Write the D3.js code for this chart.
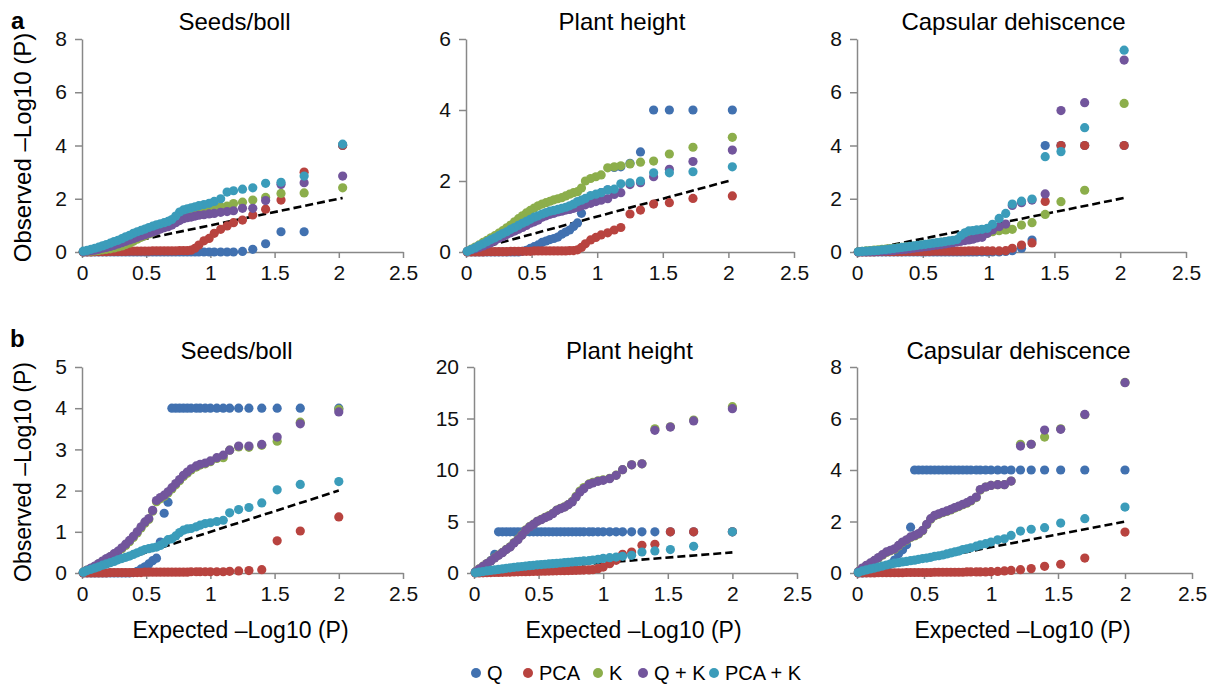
<!DOCTYPE html>
<html>
<head>
<meta charset="utf-8">
<script src="https://cdnjs.cloudflare.com/ajax/libs/d3/7.8.5/d3.min.js"></script>
<style>
  body { margin: 0; background: #fff; }
  svg { font-family: "Liberation Sans", Arial, sans-serif; }
  .axis path, .axis line { stroke: #888; stroke-width: 1.5; }
  .axis text { fill: #111; font-size: 21px; }
</style>
</head>
<body>
<div id="chart"></div>
<script>
// expected -log10(P) positions (row a ~107 markers, row b ~100 markers)
var expectedA = [2.03, 1.73, 1.55, 1.43, 1.33, 1.25, 1.18, 1.13,
  1.08, 1.03, 0.99, 0.95, 0.91, 0.88, 0.85, 0.82, 0.79, 0.76, 0.73, 0.70,
  0.67, 0.64, 0.61, 0.58, 0.55, 0.52, 0.49, 0.46, 0.43, 0.40, 0.37, 0.34, 0.31, 0.28, 0.25, 0.22, 0.19, 0.16, 0.13, 0.10, 0.07, 0.04, 0.01];
var expectedB = [2.00, 1.70, 1.52, 1.40, 1.30, 1.22, 1.15, 1.10,
  1.05, 1.00, 0.96, 0.92, 0.89, 0.85, 0.82, 0.79, 0.76, 0.73, 0.70,
  0.67, 0.64, 0.61, 0.58, 0.55, 0.52, 0.49, 0.46, 0.43, 0.40, 0.37, 0.34, 0.31, 0.28, 0.25, 0.22, 0.19, 0.16, 0.13, 0.10, 0.07, 0.04, 0.01];

var seriesNames = ["Q", "PCA", "K", "Q + K", "PCA + K"];
var seriesColors = ["#4171b0", "#b8433f", "#8cae4b", "#72559c", "#3b9cba"];
var panelTitles = ["Seeds/boll", "Plant height", "Capsular dehiscence"];
var yMaxA = [8, 6, 8], yStepA = [2, 2, 2];
var yMaxB = [5, 20, 8], yStepB = [1, 5, 2];
var xTicks = [0, 0.5, 1, 1.5, 2, 2.5];

// ---- row a: Seeds/boll
var a1Q = [4.0, 0.76, 0.76, 0.31, 0.1, 0.02, 0, 0,
  0, 0, 0, 0, 0, 0, 0, 0, 0, 0, 0, 0,
  0, 0, 0, 0, 0, 0, 0, 0, 0, 0, 0, 0, 0, 0, 0, 0, 0, 0, 0, 0, 0, 0, 0];
var a1PCA = [4.0, 3.0, 1.95, 1.61, 1.39, 1.2, 1.1, 0.98,
  0.85, 0.7, 0.51, 0.42, 0.26, 0.14, 0.07, 0.05, 0.05, 0.05, 0.04, 0.04,
  0.04, 0.04, 0.04, 0.04, 0.04, 0.03, 0.03, 0.03, 0.03, 0.03, 0.03, 0.02, 0.02, 0.02, 0.02, 0.02, 0.01, 0.01, 0.01, 0.01, 0, 0, 0];
var a1K = [2.41, 2.22, 2.2, 2.05, 1.95, 1.87, 1.82, 1.72,
  1.7, 1.67, 1.63, 1.6, 1.57, 1.53, 1.5, 1.47, 1.42, 1.35, 1.2, 1.1,
  1.0, 0.95, 0.88, 0.8, 0.74, 0.68, 0.61, 0.55, 0.48, 0.4, 0.33, 0.28, 0.23, 0.19, 0.15, 0.12, 0.1, 0.08, 0.06, 0.04, 0.03, 0.02, 0.01];
var a1QK = [2.85, 2.6, 2.54, 1.93, 1.64, 1.64, 1.55, 1.52,
  1.49, 1.45, 1.43, 1.4, 1.38, 1.35, 1.31, 1.29, 1.25, 1.18, 1.1, 1.01,
  0.95, 0.91, 0.86, 0.8, 0.75, 0.7, 0.65, 0.6, 0.55, 0.5, 0.45, 0.4, 0.35, 0.3, 0.25, 0.21, 0.17, 0.14, 0.1, 0.07, 0.05, 0.03, 0.01];
var a1PCAK = [4.05, 2.85, 2.62, 2.58, 2.41, 2.36, 2.3, 2.25,
  2.0, 1.9, 1.83, 1.78, 1.74, 1.7, 1.66, 1.62, 1.58, 1.5, 1.35, 1.22,
  1.15, 1.1, 1.06, 1.02, 0.97, 0.92, 0.86, 0.81, 0.76, 0.7, 0.63, 0.57, 0.5, 0.44, 0.39, 0.33, 0.28, 0.23, 0.18, 0.14, 0.1, 0.06, 0.03];

// ---- row a: Plant height
var a2Q = [4, 4, 4, 4, 2.82, 2.5, 2.4, 2.38,
  1.75, 1.67, 1.6, 1.55, 1.45, 1.09, 0.82, 0.72, 0.62, 0.56, 0.5, 0.42,
  0.38, 0.35, 0.31, 0.27, 0.2, 0.15, 0.1, 0.05, 0.02, 0, 0, 0, 0, 0, 0, 0, 0, 0, 0, 0, 0, 0, 0];
var a2PCA = [1.58, 1.51, 1.39, 1.35, 1.18, 1.07, 0.69, 0.62,
  0.54, 0.48, 0.41, 0.34, 0.23, 0.13, 0.06, 0.04, 0.04, 0.03, 0.03, 0.03,
  0.03, 0.03, 0.03, 0.03, 0.03, 0.03, 0.02, 0.02, 0.02, 0.02, 0.02, 0.02, 0.01, 0.01, 0.01, 0.01, 0.01, 0.01, 0, 0, 0, 0, 0];
var a2K = [3.23, 2.95, 2.76, 2.56, 2.53, 2.48, 2.43, 2.4,
  2.37, 2.17, 2.12, 2.07, 2.0, 1.8, 1.7, 1.67, 1.63, 1.58, 1.53, 1.5,
  1.47, 1.43, 1.39, 1.35, 1.3, 1.24, 1.17, 1.1, 1.02, 0.94, 0.85, 0.76, 0.68, 0.6, 0.53, 0.46, 0.4, 0.33, 0.27, 0.2, 0.14, 0.08, 0.02];
var a2QK = [2.87, 2.55, 2.33, 2.12, 1.95, 1.9, 1.67, 1.62,
  1.5, 1.46, 1.42, 1.37, 1.33, 1.3, 1.26, 1.23, 1.2, 1.18, 1.15, 1.13,
  1.09, 1.06, 1.02, 0.98, 0.9, 0.85, 0.81, 0.75, 0.69, 0.64, 0.59, 0.54, 0.49, 0.43, 0.38, 0.32, 0.26, 0.22, 0.17, 0.13, 0.09, 0.06, 0.02];
var a2PCAK = [2.4, 2.26, 2.23, 2.23, 2.0, 1.95, 1.92, 1.77,
  1.75, 1.67, 1.63, 1.59, 1.51, 1.46, 1.42, 1.35, 1.3, 1.26, 1.23, 1.2,
  1.17, 1.15, 1.11, 1.07, 1.02, 0.98, 0.92, 0.86, 0.81, 0.75, 0.69, 0.64, 0.57, 0.52, 0.46, 0.4, 0.35, 0.29, 0.23, 0.18, 0.12, 0.07, 0.02];

// ---- row a: Capsular dehiscence
var a3Q = [4, 4, 4, 4, 0.45, 0.14, 0.05, 0.02,
  0, 0, 0, 0, 0, 0, 0, 0, 0, 0, 0, 0,
  0, 0, 0, 0, 0, 0, 0, 0, 0, 0, 0, 0, 0, 0, 0, 0, 0, 0, 0, 0, 0, 0, 0];
var a3PCA = [4, 4, 4, 1.9, 0.34, 0.26, 0.14, 0.05,
  0.04, 0.04, 0.04, 0.04, 0.04, 0.04, 0.04, 0.03, 0.03, 0.03, 0.03, 0.03,
  0.03, 0.03, 0.03, 0.03, 0.02, 0.02, 0.02, 0.02, 0.02, 0.02, 0.02, 0.01, 0.01, 0.01, 0.01, 0.01, 0.01, 0.01, 0, 0, 0, 0, 0];
var a3K = [5.58, 2.32, 1.89, 1.41, 1.1, 1.01, 0.85, 0.83,
  0.8, 0.76, 0.7, 0.6, 0.58, 0.55, 0.52, 0.5, 0.47, 0.45, 0.42, 0.4,
  0.38, 0.36, 0.34, 0.32, 0.3, 0.28, 0.26, 0.24, 0.22, 0.2, 0.19, 0.17, 0.16, 0.14, 0.13, 0.11, 0.1, 0.08, 0.07, 0.05, 0.04, 0.02, 0.01];
var a3QK = [7.21, 5.61, 5.31, 2.18, 1.95, 1.85, 1.75, 1.05,
  0.95, 0.83, 0.7, 0.55, 0.53, 0.48, 0.45, 0.43, 0.4, 0.38, 0.35, 0.33,
  0.3, 0.28, 0.26, 0.24, 0.22, 0.2, 0.18, 0.16, 0.14, 0.12, 0.1, 0.09, 0.08, 0.06, 0.05, 0.04, 0.03, 0.03, 0.02, 0.02, 0.01, 0.01, 0];
var a3PCAK = [7.58, 4.67, 3.77, 3.58, 1.99, 1.91, 1.8, 1.45,
  1.26, 1.04, 0.89, 0.85, 0.83, 0.8, 0.79, 0.72, 0.62, 0.47, 0.44, 0.42,
  0.39, 0.37, 0.35, 0.33, 0.31, 0.29, 0.27, 0.25, 0.23, 0.21, 0.19, 0.17, 0.15, 0.13, 0.11, 0.09, 0.08, 0.06, 0.05, 0.04, 0.03, 0.02, 0.01];

// ---- row b: Seeds/boll
var b1Q = [4, 4, 4, 4, 4, 4, 4, 4,
  4, 4, 4, 4, 4, 4, 4, 4, 4, 4, 4,
  1.72, 1.45, 0.75, 0.36, 0.3, 0.22, 0.15, 0.1, 0.04, 0.01, 0, 0, 0, 0, 0, 0, 0, 0, 0, 0, 0, 0, 0];
var b1PCA = [1.36, 1.02, 0.78, 0.08, 0.06, 0.05, 0.04, 0.03,
  0.03, 0.03, 0.03, 0.03, 0.03, 0.03, 0.02, 0.02, 0.02, 0.02, 0.02,
  0.02, 0.02, 0.02, 0.02, 0.02, 0.02, 0.02, 0.01, 0.01, 0.01, 0.01, 0.01, 0.01, 0.01, 0.01, 0.01, 0, 0, 0, 0, 0, 0, 0];
var b1K = [3.97, 3.66, 3.2, 3.1, 3.05, 3.06, 2.98, 2.8,
  2.78, 2.7, 2.65, 2.62, 2.57, 2.5, 2.42, 2.34, 2.24, 2.14, 2.04,
  1.94, 1.86, 1.8, 1.73, 1.5, 1.3, 1.21, 1.09, 0.97, 0.86, 0.76, 0.67, 0.59, 0.51, 0.45, 0.39, 0.33, 0.28, 0.22, 0.16, 0.11, 0.07, 0.02];
var b1QK = [3.91, 3.62, 3.3, 3.12, 3.08, 3.08, 2.98, 2.86,
  2.8, 2.72, 2.67, 2.64, 2.6, 2.53, 2.45, 2.37, 2.27, 2.17, 2.07,
  1.97, 1.89, 1.83, 1.76, 1.52, 1.32, 1.24, 1.12, 1.0, 0.89, 0.79, 0.7, 0.61, 0.53, 0.47, 0.4, 0.35, 0.29, 0.23, 0.17, 0.12, 0.07, 0.02];
var b1PCAK = [2.22, 2.15, 2.02, 1.7, 1.59, 1.54, 1.46, 1.28,
  1.25, 1.22, 1.2, 1.16, 1.12, 1.08, 1.07, 1.04, 0.98, 0.9, 0.83,
  0.81, 0.73, 0.67, 0.63, 0.61, 0.59, 0.57, 0.53, 0.49, 0.45, 0.41, 0.38, 0.35, 0.32, 0.28, 0.25, 0.22, 0.19, 0.15, 0.12, 0.09, 0.06, 0.02];

// ---- row b: Plant height
var b2Q = [4, 4, 4, 4, 4, 4, 4, 4,
  4, 4, 4, 4, 4, 4, 4, 4, 4, 4, 4,
  4, 4, 4, 4, 4, 4, 4, 4, 4, 4, 4, 4, 4, 4, 4, 4, 4, 1.8, 1.2, 0.8, 0.5, 0.3, 0.05];
var b2PCA = [4.0, 4.0, 4.0, 2.78, 2.69, 2.04, 1.81, 1.23,
  0.9, 0.58, 0.42, 0.32, 0.3, 0.28, 0.27, 0.26, 0.25, 0.24, 0.23,
  0.22, 0.21, 0.2, 0.19, 0.18, 0.17, 0.16, 0.15, 0.14, 0.13, 0.12, 0.11, 0.1, 0.09, 0.08, 0.07, 0.06, 0.05, 0.04, 0.03, 0.02, 0.01, 0];
var b2K = [16.15, 14.85, 14.2, 14.0, 10.6, 10.5, 10.03, 9.5,
  9.2, 9.05, 8.95, 8.8, 8.65, 8.3, 7.95, 7.45, 6.95, 6.65, 6.42,
  6.28, 6.1, 5.8, 5.58, 5.4, 5.2, 5.02, 4.74, 4.5, 4.18, 3.7, 3.28, 2.95, 2.55, 2.3, 2.0, 1.74, 1.47, 1.18, 0.92, 0.66, 0.4, 0.1];
var b2QK = [15.95, 14.76, 14.17, 13.85, 10.6, 10.5, 10.03, 9.48,
  9.16, 9.0, 8.9, 8.74, 8.6, 8.19, 7.86, 7.38, 6.9, 6.63, 6.4,
  6.25, 6.08, 5.76, 5.53, 5.37, 5.18, 5.02, 4.72, 4.47, 4.14, 3.66, 3.24, 2.91, 2.52, 2.27, 1.97, 1.72, 1.46, 1.17, 0.91, 0.65, 0.39, 0.1];
var b2PCAK = [4.0, 2.59, 2.27, 2.14, 2.04, 1.72, 1.62, 1.55,
  1.49, 1.42, 1.33, 1.26, 1.2, 1.17, 1.13, 1.1, 1.07, 1.04, 1.0,
  0.97, 0.94, 0.91, 0.88, 0.85, 0.82, 0.79, 0.75, 0.71, 0.67, 0.63, 0.59, 0.55, 0.5, 0.45, 0.4, 0.35, 0.3, 0.25, 0.2, 0.14, 0.08, 0.02];

// ---- row b: Capsular dehiscence
var b3Q = [4, 4, 4, 4, 4, 4, 4, 4,
  4, 4, 4, 4, 4, 4, 4, 4, 4, 4, 4,
  4, 4, 4, 4, 4, 4, 4, 4, 4, 1.78, 1.1, 0.9, 0.75, 0.5, 0.35, 0.25, 0.15, 0.1, 0.06, 0.03, 0.01, 0, 0];
var b3PCA = [1.59, 0.58, 0.34, 0.26, 0.17, 0.13, 0.1, 0.08,
  0.06, 0.05, 0.04, 0.04, 0.04, 0.04, 0.04, 0.03, 0.03, 0.03, 0.03,
  0.03, 0.03, 0.03, 0.03, 0.02, 0.02, 0.02, 0.02, 0.02, 0.02, 0.02, 0.01, 0.01, 0.01, 0.01, 0.01, 0.01, 0.01, 0, 0, 0, 0, 0];
var b3K = [7.4, 6.15, 5.6, 5.28, 5.0, 5.0, 3.57, 3.43,
  3.43, 3.4, 3.34, 3.22, 2.93, 2.8, 2.71, 2.65, 2.58, 2.52, 2.45,
  2.39, 2.34, 2.28, 2.22, 2.09, 1.87, 1.64, 1.51, 1.44, 1.38, 1.27, 1.18, 1.05, 0.92, 0.86, 0.8, 0.69, 0.58, 0.47, 0.37, 0.28, 0.18, 0.05];
var b3QK = [7.39, 6.16, 5.58, 5.55, 5.0, 4.93, 3.57, 3.43,
  3.43, 3.4, 3.34, 3.24, 2.95, 2.82, 2.73, 2.67, 2.6, 2.54, 2.47,
  2.41, 2.36, 2.3, 2.24, 2.11, 1.89, 1.66, 1.53, 1.46, 1.4, 1.29, 1.2, 1.07, 0.94, 0.88, 0.82, 0.71, 0.6, 0.49, 0.39, 0.3, 0.19, 0.05];
var b3PCAK = [2.56, 2.11, 1.94, 1.76, 1.7, 1.63, 1.46, 1.33,
  1.29, 1.2, 1.14, 1.09, 1.04, 0.98, 0.94, 0.91, 0.85, 0.82, 0.78,
  0.74, 0.7, 0.67, 0.65, 0.61, 0.58, 0.56, 0.53, 0.5, 0.48, 0.45, 0.43, 0.4, 0.38, 0.35, 0.31, 0.27, 0.23, 0.19, 0.16, 0.12, 0.08, 0.02];

(function () {
    var width = 1216,
        height = 684;

    var svg = d3.select("#chart")
        .append("svg")
        .attr("width", width)
        .attr("height", height);

    // panel frames in pixels
    var rowA = { top: 39, bottom: 252, boxes: [[82, 403], [466, 794], [857, 1186]] };
    var rowB = { top: 367, bottom: 573, boxes: [[82, 403], [474, 797], [857, 1192]] };

    var panels = [
        { row: rowA, col: 0, yMax: yMaxA[0], step: yStepA[0], exp: expectedA, series: [a1Q, a1PCA, a1K, a1QK, a1PCAK] },
        { row: rowA, col: 1, yMax: yMaxA[1], step: yStepA[1], exp: expectedA, series: [a2Q, a2PCA, a2K, a2QK, a2PCAK] },
        { row: rowA, col: 2, yMax: yMaxA[2], step: yStepA[2], exp: expectedA, series: [a3Q, a3PCA, a3K, a3QK, a3PCAK] },
        { row: rowB, col: 0, yMax: yMaxB[0], step: yStepB[0], exp: expectedB, series: [b1Q, b1PCA, b1K, b1QK, b1PCAK] },
        { row: rowB, col: 1, yMax: yMaxB[1], step: yStepB[1], exp: expectedB, series: [b2Q, b2PCA, b2K, b2QK, b2PCAK] },
        { row: rowB, col: 2, yMax: yMaxB[2], step: yStepB[2], exp: expectedB, series: [b3Q, b3PCA, b3K, b3QK, b3PCAK] }
    ];

    panels.forEach(function (p) {
        var box = p.row.boxes[p.col];
        var x = d3.scaleLinear().domain([0, 2.5]).range([box[0], box[1]]);
        var y = d3.scaleLinear().domain([0, p.yMax]).range([p.row.bottom, p.row.top]);
        var g = svg.append("g");

        g.append("g")
            .attr("class", "axis")
            .attr("transform", "translate(" + box[0] + ",0)")
            .call(d3.axisLeft(y).tickValues(d3.range(0, p.yMax + 0.001, p.step))
                .tickSize(7).tickSizeOuter(0).tickPadding(8).tickFormat(d3.format("d")));

        g.append("g")
            .attr("class", "axis")
            .attr("transform", "translate(0," + p.row.bottom + ")")
            .call(d3.axisBottom(x).tickValues(xTicks)
                .tickSize(6).tickSizeOuter(0).tickPadding(7).tickFormat(function (d) { return String(d); }));

        // reference line y = x up to the largest expected value
        var xEnd = d3.max(p.exp);
        g.append("line")
            .attr("x1", x(0)).attr("y1", y(0))
            .attr("x2", x(xEnd)).attr("y2", y(xEnd))
            .attr("stroke", "#000")
            .attr("stroke-width", 2.6)
            .attr("stroke-dasharray", "8,4");

        p.series.forEach(function (vals, si) {
            var pts = vals.map(function (v, i) { return [p.exp[i], v]; });
            g.append("g").selectAll("circle")
                .data(pts)
                .enter().append("circle")
                .attr("cx", function (d) { return x(d[0]); })
                .attr("cy", function (d) { return y(d[1]); })
                .attr("r", 4.6)
                .attr("fill", seriesColors[si]);
        });

        // panel title
        g.append("text")
            .attr("x", (box[0] + box[1]) / 2 + (p.row === rowA ? -8 : -6))
            .attr("y", p.row === rowA ? 30 : 359)
            .attr("text-anchor", "middle")
            .style("font-size", "24px")
            .text(panelTitles[p.col]);

        if (p.row === rowB) {
            g.append("text")
                .attr("x", (box[0] + box[1]) / 2 - 2)
                .attr("y", 638)
                .attr("text-anchor", "middle")
                .style("font-size", "23px")
                .text("Expected \u2013Log10 (P)");
        }
        if (p.col === 0) {
            var cy = (p.row.top + p.row.bottom) / 2 + 2;
            g.append("text")
                .attr("transform", "translate(31," + cy + ") rotate(-90)")
                .attr("text-anchor", "middle")
                .style("font-size", p.row === rowA ? "24px" : "23px")
                .text("Observed \u2013Log10 (P)");
        }
    });

    // panel letters
    svg.append("text").attr("x", 11).attr("y", 29)
        .style("font-size", "24px").style("font-weight", "bold").text("a");
    svg.append("text").attr("x", 10).attr("y", 347)
        .style("font-size", "24px").style("font-weight", "bold").text("b");

    // legend
    var legendX = [476, 528, 598, 643, 714];
    var legend = svg.selectAll(".legend")
        .data(seriesNames)
        .enter().append("g")
        .attr("class", "legend")
        .attr("transform", function (d, i) { return "translate(" + legendX[i] + ",673)"; });

    legend.append("circle")
        .attr("r", 5)
        .attr("fill", function (d, i) { return seriesColors[i]; });

    legend.append("text")
        .attr("x", 11)
        .attr("dy", "0.36em")
        .style("font-size", "20px")
        .text(function (d) { return d; });
})();
</script>
</body>
</html>
